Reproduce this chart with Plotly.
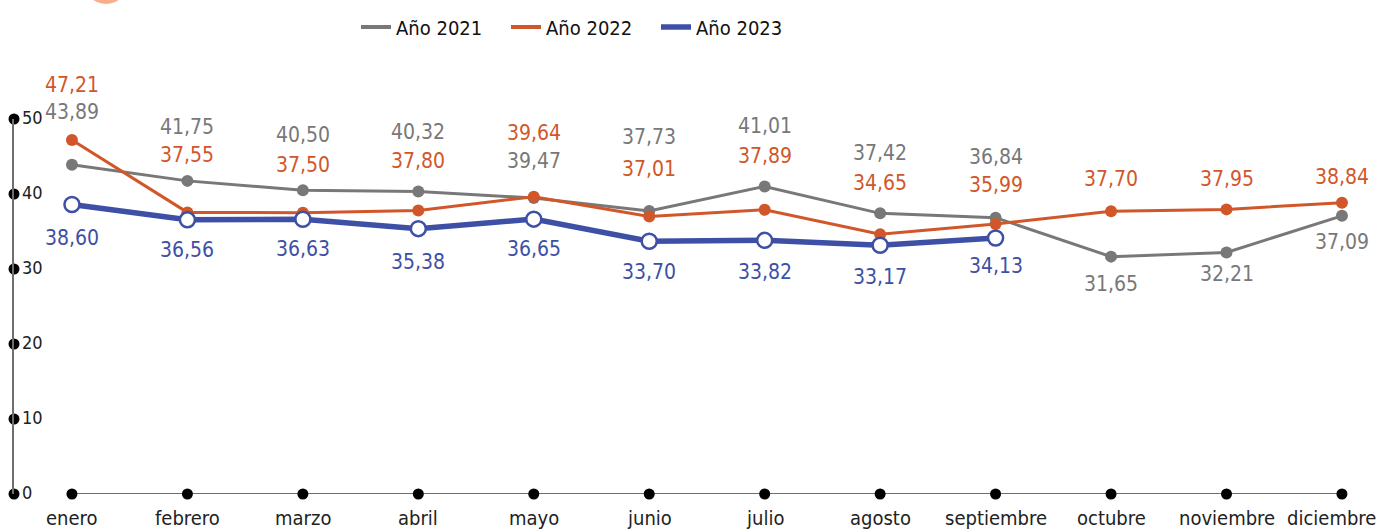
import plotly.graph_objects as go

months = ["enero", "febrero", "marzo", "abril", "mayo", "junio", "julio",
          "agosto", "septiembre", "octubre", "noviembre", "diciembre"]
y2021 = [43.89, 41.75, 40.50, 40.32, 39.47, 37.73, 41.01, 37.42, 36.84, 31.65, 32.21, 37.09]
y2022 = [47.21, 37.55, 37.50, 37.80, 39.64, 37.01, 37.89, 34.65, 35.99, 37.70, 37.95, 38.84]
y2023 = [38.60, 36.56, 36.63, 35.38, 36.65, 33.70, 33.82, 33.17, 34.13]
y_ticks = [0, 10, 20, 30, 40, 50]

# label pixel offsets relative to each point (layout only)
shift_2021 = [53, 54, 55, 60, 37, 74, 60, 60, 61, -27, -22, -26]
shift_2022 = [55, 57, 48, 50, 64, 47, 54, 51, 39, 32, 30, 26]
shift_2023 = [-33, -30, -30, -33, -30, -31, -32, -32, -28]
month_xshift = [0, 0, 0, 0, 0, 0, 0, 0, 0, 0, 0, -10]

GRAY = "#787878"
ORANGE = "#d1572a"
BLUE = "#3e4fa6"
FONT = "Liberation Sans Narrow, Arial Narrow, DejaVu Sans Condensed, sans-serif"

W, H = 1381, 532
ML, MR, MT, MB = 14, 20, 119, 38
X_RANGE = [-0.502, 11.165]

idx = list(range(len(months)))

def fmt(v):
    return f"{v:.2f}".replace(".", ",")

fig = go.Figure()

# x baseline with category dots
fig.add_trace(go.Scatter(x=idx, y=[0] * len(idx), mode="lines+markers",
                         line=dict(color="#6e6e6e", width=2),
                         marker=dict(color="black", size=11),
                         showlegend=False, hoverinfo="skip", cliponaxis=False))
# y axis dots with labels
fig.add_trace(go.Scatter(x=[X_RANGE[0]] * len(y_ticks), y=y_ticks, mode="markers+text",
                         text=[str(t) for t in y_ticks], textposition="middle right",
                         textfont=dict(family=FONT, size=18, color="#222222"),
                         marker=dict(color="black", size=11),
                         showlegend=False, hoverinfo="skip", cliponaxis=False))

series = [("Año 2021", y2021, GRAY, 3, dict(color=GRAY, size=12)),
          ("Año 2022", y2022, ORANGE, 3, dict(color=ORANGE, size=12)),
          ("Año 2023", y2023, BLUE, 5.5,
           dict(color="white", size=15, line=dict(color=BLUE, width=2.5)))]

for name, vals, color, lw, mk in series:
    fig.add_trace(go.Scatter(x=idx[:len(vals)], y=vals, name=name, mode="lines+markers",
                             line=dict(color=color, width=lw), marker=mk,
                             legendgroup=name, showlegend=False, cliponaxis=False))
for name, vals, color, lw, mk in series:
    fig.add_trace(go.Scatter(x=[None], y=[None], name=name, mode="lines",
                             line=dict(color=color, width=lw if lw > 3 else 4),
                             legendgroup=name, showlegend=True))

annotations = []
for vals, shifts, color in ((y2021, shift_2021, GRAY), (y2022, shift_2022, ORANGE),
                            (y2023, shift_2023, BLUE)):
    for i, (v, s) in enumerate(zip(vals, shifts)):
        annotations.append(dict(x=idx[i], y=v, text=fmt(v), showarrow=False,
                                xanchor="center", yanchor="middle", yshift=s,
                                font=dict(family=FONT, size=21, color=color)))
# month labels
for i, m in enumerate(months):
    annotations.append(dict(x=idx[i], y=0, text=m, showarrow=False,
                            xanchor="center", yanchor="middle", yshift=-24,
                            xshift=month_xshift[i],
                            font=dict(family=FONT, size=20, color="#222222")))

px_w = W - ML - MR
px_h = H - MT - MB
def px_x(p):
    return (p - ML) / px_w
def px_y(p):
    return (H - MB - p) / px_h

fig.update_layout(
    width=W, height=H,
    margin=dict(l=ML, r=MR, t=MT, b=MB, autoexpand=False),
    paper_bgcolor="white", plot_bgcolor="white",
    font=dict(family=FONT, color="#222222"),
    annotations=annotations,
    shapes=[dict(type="circle", xref="paper", yref="paper",
                 x0=px_x(84), x1=px_x(128), y0=px_y(4), y1=px_y(-40),
                 fillcolor="#f7b08c", line=dict(width=0), layer="above")],
    xaxis=dict(range=X_RANGE, showticklabels=False,
               showgrid=False, zeroline=False, showline=False, ticks="",
               automargin=False),
    yaxis=dict(range=[0, 50], tickvals=y_ticks, showgrid=False, zeroline=False,
               showline=True, linecolor="#6e6e6e", linewidth=2, ticks="",
               showticklabels=False, automargin=False),
    legend=dict(orientation="h", xref="container", yref="container",
                x=356 / W, xanchor="left", y=1 - 27 / H, yanchor="middle",
                entrywidth=105, entrywidthmode="pixels",
                font=dict(family=FONT, size=20, color="#111111"),
                bgcolor="rgba(0,0,0,0)"),
    showlegend=True,
)

fig.write_html("out.html", config={"displayModeBar": False},
               post_script="document.body.style.margin='0';document.body.style.overflow='hidden';")
